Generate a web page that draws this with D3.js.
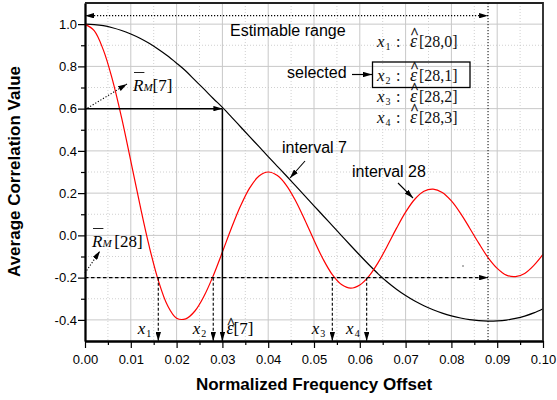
<!DOCTYPE html>
<html>
<head>
<meta charset="utf-8">
<script src="https://cdn.jsdelivr.net/npm/d3@7"></script>
<style>
	html, body { margin: 0; padding: 0; background: #fff; }
	svg { display: block; }
</style>
</head>
<body>
<svg id="chart" width="557" height="400"></svg>
<script>
// normalized frequency offset samples
const offsets = [
	0, 0.002, 0.004, 0.006, 0.008, 0.01, 0.012, 0.014, 0.016, 0.018,
	0.02, 0.022, 0.024, 0.026, 0.028, 0.03, 0.032, 0.034, 0.036, 0.038,
	0.04, 0.042, 0.044, 0.046, 0.048, 0.05, 0.052, 0.054, 0.056, 0.058,
	0.06, 0.062, 0.064, 0.066, 0.068, 0.07, 0.072, 0.074, 0.076, 0.078,
	0.08, 0.082, 0.084, 0.086, 0.088, 0.09, 0.092, 0.094, 0.096, 0.098, 0.1
]
// average correlation, interval 7 (black)
const interval7 = [
	1.0, 0.998, 0.993, 0.983, 0.97, 0.953, 0.933, 0.909, 0.881, 0.85,
	0.815, 0.778, 0.735, 0.692, 0.648, 0.606, 0.56, 0.513, 0.466, 0.42,
	0.373, 0.327, 0.281, 0.234, 0.187, 0.14, 0.093, 0.046, -0.001, -0.048,
	-0.094, -0.139, -0.182, -0.221, -0.255, -0.285, -0.311, -0.333, -0.352, -0.368,
	-0.381, -0.391, -0.399, -0.404, -0.406, -0.405, -0.401, -0.393, -0.382, -0.367, -0.347
]
// average correlation, interval 28 (red)
const interval28 = [
	1.0, 0.969, 0.878, 0.736, 0.556, 0.352, 0.144, -0.05, -0.213, -0.331,
	-0.392, -0.395, -0.358, -0.287, -0.191, -0.079, 0.036, 0.141, 0.226, 0.281,
	0.3, 0.283, 0.236, 0.163, 0.073, -0.023, -0.113, -0.186, -0.233, -0.25,
	-0.235, -0.193, -0.129, -0.05, 0.033, 0.11, 0.171, 0.209, 0.219, 0.203,
	0.163, 0.104, 0.034, -0.038, -0.105, -0.156, -0.188, -0.195, -0.18, -0.142, -0.09
]

const xTicks = [0, 0.01, 0.02, 0.03, 0.04, 0.05, 0.06, 0.07, 0.08, 0.09, 0.1]
const xMinorTicks = [0.005, 0.015, 0.025, 0.035, 0.045, 0.055, 0.065, 0.075, 0.085, 0.095]
const yTicks = [-0.4, -0.2, 0, 0.2, 0.4, 0.6, 0.8, 1.0]
const yMinorTicks = [-0.3, -0.1, 0.1, 0.3, 0.5, 0.7, 0.9]

// annotation values
const crossNames = ['1', '2', '3', '4']
const crossOffsets = [0.016, 0.028, 0.054, 0.0615]
const estimate7 = 0.03
const level7 = 0.6
const level28 = -0.2
const rangeEnd = 0.088
const rangeLevel = 1.04
const legendIndex = ['0', '1', '2', '3']
const selectedRow = 1

const W = 557
const H = 400
const margin = { top: 3, right: 14, bottom: 59, left: 85 }
const SANS = '"Liberation Sans", Arial, sans-serif'
const SERIF = '"Liberation Serif", "Times New Roman", serif'

const svg = d3.select('#chart')

const x = d3.scaleLinear().domain([0, 0.1]).range([margin.left, W - margin.right])
const y = d3.scaleLinear().domain([-0.5, 1.1]).range([H - margin.bottom, margin.top])
const plotBottom = y(-0.5)
const plotTop = y(1.1)

const defs = svg.append('defs')
defs.append('marker')
	.attr('id', 'arrow')
	.attr('viewBox', '0 0 10 6')
	.attr('refX', 10)
	.attr('refY', 3)
	.attr('markerWidth', 9)
	.attr('markerHeight', 5.4)
	.attr('markerUnits', 'userSpaceOnUse')
	.attr('orient', 'auto-start-reverse')
	.append('path')
	.attr('d', 'M0,0L10,3L0,6Z')
	.attr('fill', '#000')

// grid
const grid = svg.append('g').attr('class', 'grid')
grid.selectAll('line.vminor')
	.data(xMinorTicks)
	.join('line')
	.attr('x1', d => x(d)).attr('x2', d => x(d))
	.attr('y1', plotTop).attr('y2', plotBottom)
	.attr('stroke', '#c4c4c4').attr('stroke-width', 0.8)
	.attr('stroke-dasharray', '1,2')
grid.selectAll('line.hminor')
	.data(yMinorTicks)
	.join('line')
	.attr('x1', x(0)).attr('x2', x(0.1))
	.attr('y1', d => y(d)).attr('y2', d => y(d))
	.attr('stroke', '#c4c4c4').attr('stroke-width', 0.8)
	.attr('stroke-dasharray', '1,2')
grid.selectAll('line.vmajor')
	.data(xTicks.slice(1, -1))
	.join('line')
	.attr('x1', d => x(d)).attr('x2', d => x(d))
	.attr('y1', plotTop).attr('y2', plotBottom)
	.attr('stroke', '#c8c8c8').attr('stroke-width', 1)
grid.selectAll('line.hmajor')
	.data(yTicks)
	.join('line')
	.attr('x1', x(0)).attr('x2', x(0.1))
	.attr('y1', d => y(d)).attr('y2', d => y(d))
	.attr('stroke', '#c8c8c8').attr('stroke-width', 1)

// curves
const line = d3.line()
	.x((d, i) => x(offsets[i]))
	.y(d => y(d))
	.curve(d3.curveCatmullRom.alpha(0.5))

svg.append('path')
	.datum(interval7)
	.attr('d', line)
	.attr('fill', 'none')
	.attr('stroke', '#000')
	.attr('stroke-width', 1.2)

svg.append('path')
	.datum(interval28)
	.attr('d', line)
	.attr('fill', 'none')
	.attr('stroke', '#ff0000')
	.attr('stroke-width', 1.2)

// axes
function styleAxis(g) {
	g.select('.domain').attr('stroke', '#000').attr('stroke-width', 1.8)
	g.selectAll('.tick line').attr('stroke', '#000').attr('stroke-width', 1.2)
	g.selectAll('.tick text')
		.attr('fill', '#000')
		.attr('font-family', SANS)
		.attr('font-size', 13)
}

svg.append('g')
	.attr('transform', `translate(${x(0)},0)`)
	.call(d3.axisLeft(y).tickValues(yMinorTicks).tickFormat('').tickSize(4).tickSizeOuter(0))
	.call(styleAxis)
svg.append('g')
	.attr('transform', `translate(${x(0)},0)`)
	.call(d3.axisLeft(y).tickValues(yTicks).tickFormat(d => d.toFixed(1)).tickSize(7).tickPadding(1).tickSizeOuter(0))
	.call(styleAxis)

svg.append('g')
	.attr('transform', `translate(0,${plotBottom})`)
	.call(d3.axisBottom(x).tickValues(xMinorTicks).tickFormat('').tickSize(4).tickSizeOuter(0))
	.call(styleAxis)
svg.append('g')
	.attr('transform', `translate(0,${plotBottom})`)
	.call(d3.axisBottom(x).tickValues(xTicks).tickFormat(d => d.toFixed(2)).tickSize(7).tickPadding(7).tickSizeOuter(0))
	.call(styleAxis)

// frame top and right
svg.append('path')
	.attr('d', `M${x(0)},${plotTop}H${x(0.1)}V${plotBottom}`)
	.attr('fill', 'none')
	.attr('stroke', '#222')
	.attr('stroke-width', 1.8)

// axis titles
svg.append('text')
	.attr('x', 314)
	.attr('y', 390)
	.attr('text-anchor', 'middle')
	.attr('font-family', SANS)
	.attr('font-weight', 'bold')
	.attr('font-size', 17)
	.text('Normalized Frequency Offset')

svg.append('text')
	.attr('transform', 'translate(20,171.5) rotate(-90)')
	.attr('text-anchor', 'middle')
	.attr('font-family', SANS)
	.attr('font-weight', 'bold')
	.attr('font-size', 17)
	.text('Average Correlation Value')

// annotations
const notes = svg.append('g').attr('class', 'notes')

function arrowLine(x1, y1, x2, y2, dash, width, both) {
	const l = notes.append('line')
		.attr('x1', x1).attr('y1', y1)
		.attr('x2', x2).attr('y2', y2)
		.attr('stroke', '#000')
		.attr('stroke-width', width || 1.2)
		.attr('marker-end', 'url(#arrow)')
	if (dash) l.attr('stroke-dasharray', dash)
	if (both) l.attr('marker-start', 'url(#arrow)')
	return l
}

function addHat(textSel, index, lift) {
	const e = textSel.node().getExtentOfChar(index)
	const base = +textSel.attr('y')
	notes.append('text')
		.attr('x', e.x + e.width / 2 + 1)
		.attr('y', base - lift)
		.attr('text-anchor', 'middle')
		.attr('font-family', SERIF)
		.attr('font-size', 15)
		.attr('stroke', '#000')
		.attr('stroke-width', 0.3)
		.text('^')
}

function addOverbar(textSel, index) {
	const e = textSel.node().getExtentOfChar(index)
	const base = +textSel.attr('y')
	notes.append('line')
		.attr('x1', e.x + 1).attr('x2', e.x + e.width + 1)
		.attr('y1', base - 18.5).attr('y2', base - 18.5)
		.attr('stroke', '#222').attr('stroke-width', 1)
}

// estimable range
arrowLine(x(0), y(rangeLevel), x(rangeEnd), y(rangeLevel), '1.2,1.8', 1.2, true)
notes.append('line')
	.attr('x1', x(rangeEnd)).attr('x2', x(rangeEnd))
	.attr('y1', plotTop).attr('y2', plotBottom)
	.attr('stroke', '#000').attr('stroke-width', 1)
	.attr('stroke-dasharray', '1.2,1.8')
notes.append('text')
	.attr('x', 230).attr('y', 36)
	.attr('font-family', SANS).attr('font-size', 16)
	.text('Estimable range')

// interval 7 estimate
arrowLine(x(0), y(level7), x(estimate7), y(level7), null, 1.5)
arrowLine(x(estimate7), y(level7), x(estimate7), plotBottom, null, 1.5)
arrowLine(x(0), y(level7) + 1, 127, 84, '1.2,1.8', 1.1)

const r7 = notes.append('text').attr('x', 133).attr('y', 91).attr('font-family', SERIF)
r7.append('tspan').attr('font-style', 'italic').attr('font-size', 17).text('R')
r7.append('tspan').attr('font-style', 'italic').attr('font-size', 11).text('M')
r7.append('tspan').attr('font-size', 17).text('[7]')
addOverbar(r7, 0)

const e7 = notes.append('text').attr('x', x(estimate7) + 4).attr('y', 334).attr('font-family', SERIF)
e7.append('tspan').attr('font-style', 'italic').attr('font-size', 18).text('ε')
e7.append('tspan').attr('font-size', 17).text('[7]')
addHat(e7, 0, 6)

// interval 28 estimates
arrowLine(x(0), y(level28), x(rangeEnd), y(level28), '3.5,2.5', 1.2)
arrowLine(x(0), 273, 100, 251, '1.2,1.8', 1.1)

const r28 = notes.append('text').attr('x', 92).attr('y', 247).attr('font-family', SERIF)
r28.append('tspan').attr('font-style', 'italic').attr('font-size', 17).text('R')
r28.append('tspan').attr('font-style', 'italic').attr('font-size', 11).text('M ')
r28.append('tspan').attr('font-size', 17).text('[28]')
addOverbar(r28, 0)

crossOffsets.forEach((c, i) => {
	arrowLine(x(c), y(level28), x(c), plotBottom, '3,2', 1.1)
	const t = notes.append('text')
		.attr('x', x(c) - 7)
		.attr('y', 334)
		.attr('text-anchor', 'end')
		.attr('font-family', SERIF)
	t.append('tspan').attr('font-style', 'italic').attr('font-size', 17).text('x')
	t.append('tspan').attr('font-size', 10).attr('dx', 1).attr('dy', 3).text(crossNames[i])
})

// curve labels
notes.append('text')
	.attr('x', 282).attr('y', 153)
	.attr('font-family', SANS).attr('font-size', 16)
	.text('interval 7')
arrowLine(305, 161, 290, 178, null, 1.1)

notes.append('text')
	.attr('x', 352).attr('y', 177)
	.attr('font-family', SANS).attr('font-size', 16)
	.text('interval 28')
arrowLine(398, 183, 413, 198, null, 1.1)

// candidate list
const rowBase = [47, 81, 102, 123]
legendIndex.forEach((k, i) => {
	const t = notes.append('text')
		.attr('x', 377).attr('y', rowBase[i])
		.attr('font-family', SERIF).attr('fill', '#111')
	t.append('tspan').attr('font-style', 'italic').attr('font-size', 17).text('x')
	t.append('tspan').attr('font-size', 10).attr('dx', 1).attr('dy', 3).text(crossNames[i])
	t.append('tspan').attr('font-size', 16).attr('x', 396).attr('dy', -3).text(':')
	t.append('tspan').attr('font-style', 'italic').attr('font-size', 18).attr('x', 410).text('ε')
	t.append('tspan').attr('font-size', 16).attr('x', 419).text(`[28,${k}]`)
	addHat(t, 3, 9)
})

notes.append('rect')
	.attr('x', 372.5).attr('y', 62)
	.attr('width', 97.5).attr('height', 25.5)
	.attr('fill', 'none')
	.attr('stroke', '#000')
	.attr('stroke-width', 1.3)
notes.append('text')
	.attr('x', 287).attr('y', rowBase[selectedRow] - 3)
	.attr('font-family', SANS).attr('font-size', 16)
	.text('selected')
arrowLine(352, 74.5, 372, 74.5, null, 1.2)

notes.append('circle')
	.attr('cx', 463).attr('cy', 266).attr('r', 0.8)
	.attr('fill', '#555')
</script>
</body>
</html>
